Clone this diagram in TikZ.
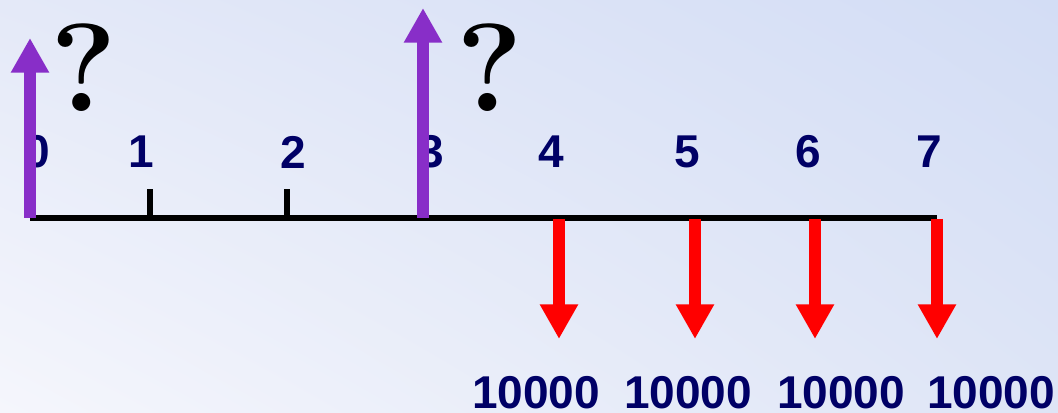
\documentclass[tikz,border=0pt]{standalone}
\usepackage{fontspec}
\setmainfont{Liberation Sans}
\newfontfamily\qfont{Latin Modern Roman}
\usetikzlibrary{arrows.meta,shadings}
\definecolor{navy}{RGB}{0,0,102}
\definecolor{cfpurple}{RGB}{136,46,200}
\definecolor{cfred}{RGB}{255,0,0}
\definecolor{bgUR}{RGB}{211,221,245}
\definecolor{bgUL}{RGB}{228,233,248}
\definecolor{bgLL}{RGB}{245,246,252}
\definecolor{bgLR}{RGB}{222,229,246}
\tikzset{
  lbl/.style={font=\fontsize{34.5}{34.5}\selectfont\bfseries, text=navy, inner sep=0pt},
  qm/.style={font=\qfont\bfseries\fontsize{94}{94}\selectfont, inner sep=0pt},
  axisline/.style={line width=4.5pt, black},
  tick/.style={line width=5pt, black},
  flowarrow/.style={line width=9pt, -{Triangle[width=27pt,length=26pt]}},
}
\begin{document}
\begin{tikzpicture}[x=0.75pt,y=-0.75pt]
\useasboundingbox (0,0) rectangle (1058,413);
\shade[upper left=bgUL, upper right=bgUR, lower left=bgLL, lower right=bgLR] (0,0) rectangle (1058,413);
% labels
\node[lbl] (l0) at (37,152) {0};
\node[lbl] (l1) at (141,152) {1};
\node[lbl] (l2) at (293,152) {2};
\node[lbl] (l3) at (431,152) {3};
\node[lbl] (l4) at (551,152) {4};
\node[lbl] (l5) at (687,152) {5};
\node[lbl] (l6) at (808,152) {6};
\node[lbl] (l7) at (929,152) {7};
% axis
\coordinate (a0) at (30,218);
\coordinate (a7) at (937,218);
\draw[axisline] (a0) -- (a7);
\coordinate (t1b) at (150,218); \coordinate (t1t) at (150,189);
\coordinate (t2b) at (287,218); \coordinate (t2t) at (287,189);
\draw[tick] (t1b) -- (t1t);
\draw[tick] (t2b) -- (t2t);
% purple arrows
\coordinate (p0b) at (30,218); \coordinate (p0t) at (30,38);
\coordinate (p3b) at (423,218); \coordinate (p3t) at (423,8);
\draw[flowarrow, cfpurple] (p0b) -- (p0t);
\draw[flowarrow, cfpurple] (p3b) -- (p3t);
% question marks
\node[qm] (q0) at (84,68) {?};
\node[qm] (q3) at (490,68) {?};
% red arrows
\foreach \n/\x in {4/559,5/695,6/815,7/937}{
  \coordinate (r\n b) at (\x,219);
  \coordinate (r\n t) at (\x,339);
  \draw[flowarrow, cfred] (r\n b) -- (r\n t);
}
% amounts
\node[lbl] (m4) at (536,393) {10000};
\node[lbl] (m5) at (688,393) {10000};
\node[lbl] (m6) at (841,393) {10000};
\node[lbl] (m7) at (991,393) {10000};
\end{tikzpicture}
\end{document}
